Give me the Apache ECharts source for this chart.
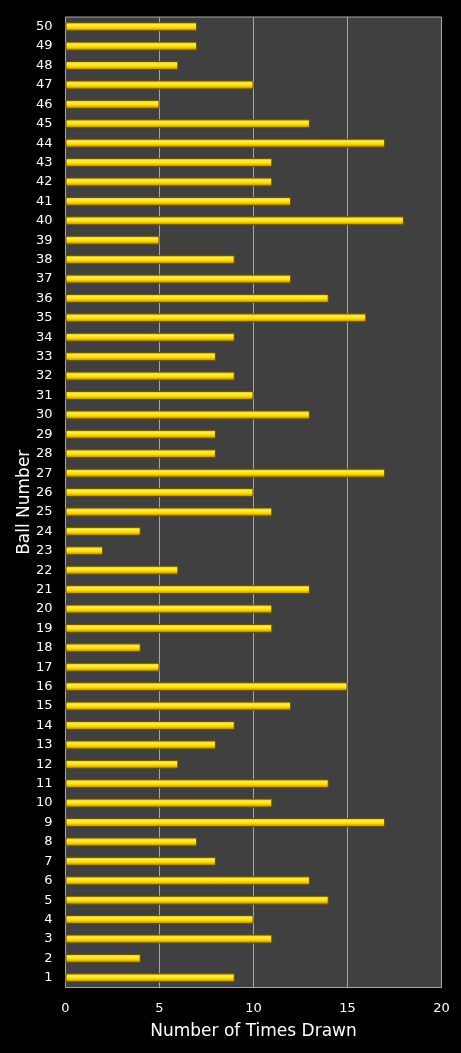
<!DOCTYPE html>
<html>
<head>
<meta charset="utf-8">
<title>Ball Number frequency</title>
<script src="https://cdn.jsdelivr.net/npm/echarts@6/dist/echarts.min.js"></script>
<style>
  html, body { margin: 0; padding: 0; background: #000; }
  #main { width: 461px; height: 1053px; }
</style>
</head>
<body>
<div id="main"></div>
<script type="text/javascript">
  // ball numbers 1..50 (bottom to top) and how often each was drawn
  var balls = ['1','2','3','4','5','6','7','8','9','10',
               '11','12','13','14','15','16','17','18','19','20',
               '21','22','23','24','25','26','27','28','29','30',
               '31','32','33','34','35','36','37','38','39','40',
               '41','42','43','44','45','46','47','48','49','50'];
  var timesDrawn = [9, 4, 11, 10, 14, 13, 8, 7, 17, 11,
                    14, 6, 8, 9, 12, 15, 5, 4, 11, 11,
                    13, 6, 2, 4, 11, 10, 17, 8, 8, 13,
                    10, 9, 8, 9, 16, 14, 12, 9, 5, 18,
                    12, 11, 11, 17, 13, 5, 10, 6, 7, 7];
  var xTicks = [0, 5, 10, 15, 20];

  var myChart = echarts.init(document.getElementById('main'));

  var labelFont = 'Verdana, "DejaVu Sans", sans-serif';

  option = {
    backgroundColor: '#000000',
    animation: false,
    grid: {
      left: 65.5,
      right: 19.5,
      top: 17,
      bottom: 65.5,
      show: true,
      backgroundColor: '#404040',
      borderColor: '#a6a6a6',
      borderWidth: 1
    },
    xAxis: {
      type: 'value',
      min: xTicks[0],
      max: xTicks[xTicks.length - 1],
      interval: 5,
      name: 'Number of Times Drawn',
      nameLocation: 'middle',
      nameGap: 36,
      nameMoveOverlap: false,
      nameTextStyle: { color: '#ffffff', fontSize: 17, fontFamily: labelFont },
      axisLine: { show: false },
      axisTick: { show: false },
      axisLabel: { color: '#ffffff', fontSize: 13, fontFamily: labelFont, margin: 15 },
      splitLine: { show: true, lineStyle: { color: '#a6a6a6', width: 1 } }
    },
    yAxis: {
      type: 'category',
      data: balls,
      name: 'Ball Number',
      nameLocation: 'middle',
      nameGap: 32,
      nameRotate: 90,
      nameMoveOverlap: false,
      nameTextStyle: { color: '#ffffff', fontSize: 17, fontFamily: labelFont },
      axisLine: { show: false },
      axisTick: { show: false },
      axisLabel: { color: '#ffffff', fontSize: 13, fontFamily: labelFont, margin: 13, interval: 0 },
      splitLine: { show: false }
    },
    series: [
      {
        name: 'Times Drawn',
        type: 'bar',
        data: timesDrawn,
        barWidth: 9,
        itemStyle: {
          borderColor: '#6e5000',
          borderWidth: 1,
          color: new echarts.graphic.LinearGradient(0, 0, 0, 1, [
            { offset: 0, color: '#d8b000' },
            { offset: 0.3, color: '#fff04a' },
            { offset: 0.6, color: '#ffd800' },
            { offset: 1, color: '#a07c00' }
          ])
        }
      }
    ]
  };

  myChart.setOption(option);
</script>
</body>
</html>
